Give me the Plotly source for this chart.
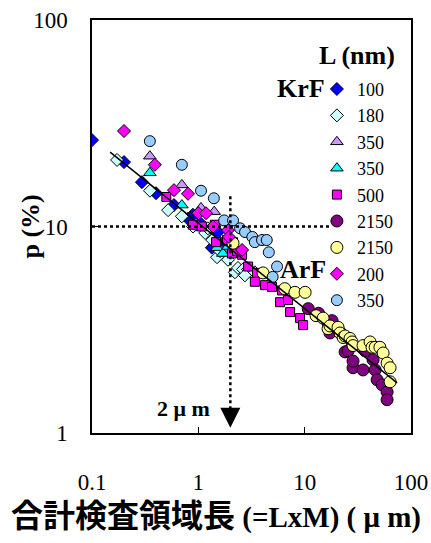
import numpy as np
import plotly.graph_objects as go

# KrF, L = 100 nm
krf100_x = [0.1, 0.2, 0.295, 0.40, 0.59, 0.80, 0.89, 0.83, 0.93, 1.04, 1.44, 1.53, 1.34, 1.67]
krf100_y = [26.2, 20.5, 16.4, 14.5, 12.7, 10.9, 11.4, 11.0, 10.6, 10.4, 8.8, 9.4, 7.9, 8.1]

# KrF, L = 180 nm
krf180_x = [0.172, 0.351, 0.52, 0.70, 0.89, 0.95, 1.16, 1.23, 1.35, 1.50, 1.60, 1.90, 2.21, 2.36,
            2.63, 2.94, 3.22, 3.4, 2.74]
krf180_y = [21.0, 14.9, 12.0, 11.2, 10.0, 10.2, 9.3, 9.8, 8.6, 7.1, 7.6, 6.9, 6.0, 6.3,
            6.2, 6.2, 5.96, 6.0, 5.8]

# KrF, L = 350 nm (lavender)
krf350a_x = [0.35, 0.70, 1.06, 1.41]
krf350a_y = [21.9, 15.9, 12.3, 11.8]

# KrF, L = 350 nm (cyan)
krf350b_x = [0.35, 0.70, 1.50, 1.70, 1.90]
krf350b_y = [18.2, 12.7, 7.9, 7.4, 8.0]

# KrF, L = 500 nm
krf500_x = [0.50, 0.89, 1.08, 1.43, 1.47, 1.86, 2.12, 2.07, 2.31, 2.58, 2.94, 3.57, 3.4, 4.24,
            4.93, 6.13, 5.87, 6.98, 7.3, 9.06, 9.66]
krf500_y = [13.9, 10.2, 10.0, 10.2, 8.4, 8.6, 8.4, 7.4, 7.6, 7.3, 6.4, 5.96, 5.4, 5.2,
            5.1, 4.9, 4.3, 4.4, 3.85, 3.6, 3.33]

# KrF, L = 2150 nm (purple)
krf2150a_x = [10.8, 13.5, 16.6, 17.3, 18.1, 21.5, 24.0, 25.6, 28.5, 28.5, 35.4, 37.0, 44.0, 46.0,
              48.0, 53.5, 59.6, 59.6]
krf2150a_y = [4.0, 3.8, 3.4, 3.05, 3.5, 3.08, 2.47, 2.5, 2.07, 2.23, 2.02, 2.5, 2.26, 2.02,
              1.81, 1.71, 1.58, 1.45]

# KrF, L = 2150 nm (yellow)
krf2150b_x = [2.12, 4.06, 6.5, 8.1, 10.1, 12.8, 14.9, 16.6, 17.3, 20.6, 21.5, 23.0, 24.0, 26.7,
              27.9, 28.5, 35.4, 41.2, 43.0, 46.0, 51.0, 54.7, 59.6, 63.6, 63.6]
krf2150b_y = [8.3, 5.96, 5.0, 4.8, 4.8, 3.7, 3.6, 3.2, 3.3, 3.25, 3.05, 2.9, 2.95, 2.87,
              2.76, 2.65, 2.65, 2.76, 2.6, 2.6, 2.6, 2.44, 2.18, 2.07, 1.77]

# ArF, L = 200 nm
arf200_x = [0.2, 0.39, 0.59, 0.80, 1.0, 1.18, 1.37, 1.90, 1.94, 2.58]
arf200_y = [29.0, 19.9, 15.0, 14.4, 11.6, 11.6, 10.0, 9.6, 8.9, 7.7]

# ArF, L = 350 nm
arf350_x = [0.35, 0.70, 1.06, 1.40, 1.75, 2.12, 2.47, 2.75, 3.22, 3.4, 3.97, 4.4, 4.6, 5.5, 5.0]
arf350_y = [25.9, 19.9, 14.9, 13.7, 10.7, 10.7, 9.8, 9.4, 8.9, 8.4, 8.6, 8.6, 7.5, 6.4, 5.7]

# fitted line end points
fit_x = [0.148, 74]
fit_y = [22.9, 1.75]

# guide lines at 2 um / 10 %
guide_h_x = [0.1, 17]
guide_h_y = [10, 10]
guide_v_x = [2, 2]
guide_v_y = [14, 1.15]

series = [
    ("100", krf100_x, krf100_y, "diamond", "#0000FF", 10),
    ("180", krf180_x, krf180_y, "diamond", "#CCFFFF", 10),
    ("350", krf350a_x, krf350a_y, "triangle-up", "#CC99FF", 11),
    ("350", krf350b_x, krf350b_y, "triangle-up", "#00FFFF", 11),
    ("500", krf500_x, krf500_y, "square", "#FF00FF", 9),
    ("2150", krf2150a_x, krf2150a_y, "circle", "#800080", 12),
    ("2150", krf2150b_x, krf2150b_y, "circle", "#FFFF99", 12),
    ("200", arf200_x, arf200_y, "diamond", "#FF00FF", 10),
    ("350", arf350_x, arf350_y, "circle", "#99CCFF", 11),
]

SERIF = "Liberation Serif"
TITLE_FONT = "Liberation Serif, Noto Sans CJK JP"

W, H = 431, 543
ML, MR, MT, MB = 92, 20, 20, 110
PW = W - ML - MR

fig = go.Figure()

for name, xs, ys, sym, col, size in series:
    fig.add_trace(
        go.Scatter(
            x=xs,
            y=ys,
            mode="markers",
            name=name,
            marker=dict(symbol=sym, color=col, size=size, line=dict(color="black", width=1)),
        )
    )

fig.add_trace(
    go.Scatter(x=fit_x, y=fit_y, mode="lines", line=dict(color="black", width=1.5), showlegend=False)
)
fig.add_trace(
    go.Scatter(x=guide_h_x, y=guide_h_y, mode="lines",
               line=dict(color="black", width=2.5, dash="dot"), showlegend=False)
)
fig.add_trace(
    go.Scatter(x=guide_v_x, y=guide_v_y, mode="lines",
               line=dict(color="black", width=2.5, dash="dot"), showlegend=False)
)

# arrow head at the end of the vertical guide
fig.add_annotation(
    x=np.log10(2), y=np.log10(1.06), xref="x", yref="y",
    ax=0, ay=-14, axref="pixel", ayref="pixel",
    showarrow=True, arrowhead=2, arrowsize=1.6, arrowwidth=2.5, arrowcolor="black", text="",
)
fig.add_annotation(
    x=np.log10(0.72), y=np.log10(1.32), xref="x", yref="y", showarrow=False,
    text="<b>2 μ m</b>", font=dict(family=TITLE_FONT, size=22, color="black"),
)

fig.add_annotation(
    x=0.737, y=0.833, xref="paper", yref="paper", xanchor="right", yanchor="middle",
    showarrow=False, text="<b>KrF</b>", font=dict(family=SERIF, size=26, color="black"),
)
fig.add_annotation(
    x=0.740, y=0.395, xref="paper", yref="paper", xanchor="right", yanchor="middle",
    showarrow=False, text="<b>ArF</b>", font=dict(family=SERIF, size=26, color="black"),
)
fig.add_annotation(
    x=0.955, y=0.915, xref="paper", yref="paper", xanchor="right", yanchor="middle",
    showarrow=False, text="<b>L (nm)</b>", font=dict(family=SERIF, size=26, color="black"),
)

# axis titles
fig.add_annotation(
    x=(215.5 - ML) / PW, y=0, xref="paper", yref="paper", yshift=-83,
    xanchor="center", yanchor="middle", showarrow=False,
    text="<b><span style='font-size:32px'>合計検査領域長</span> (=LxM) ( μ m)</b>",
    font=dict(family=TITLE_FONT, size=29, color="black"),
)
fig.add_annotation(
    x=0, y=0.5, xref="paper", yref="paper", xshift=-62,
    xanchor="center", yanchor="middle", showarrow=False, textangle=-90,
    text="<b>p (%)</b>", font=dict(family=SERIF, size=26, color="black"),
)

fig.update_xaxes(
    type="log", range=[-1, 2], showgrid=False, zeroline=False, automargin=False,
    showline=True, linecolor="black", linewidth=1.5, mirror=True,
    ticks="inside", ticklen=6, tickcolor="black",
    tickvals=[0.1, 1, 10, 100], ticktext=["0.1", "1", "10", "100"],
    tickfont=dict(family=SERIF, size=23, color="black"), ticklabelstandoff=28,
)
fig.update_yaxes(
    type="log", range=[0, 2], showgrid=False, zeroline=False, automargin=False,
    showline=True, linecolor="black", linewidth=1.5, mirror=True,
    ticks="inside", ticklen=6, tickcolor="black",
    tickvals=[1, 10, 100], ticktext=["1", "10", "100"],
    tickfont=dict(family=SERIF, size=23, color="black"), ticklabelstandoff=18,
)

fig.update_layout(
    width=W, height=H,
    margin=dict(l=ML, r=MR, t=MT, b=MB),
    paper_bgcolor="white", plot_bgcolor="white",
    legend=dict(
        x=0.705, y=0.877, xanchor="left", yanchor="top",
        bgcolor="rgba(0,0,0,0)", font=dict(family=SERIF, size=18, color="black"),
        itemwidth=30, tracegroupgap=0,
    ),
)

# drop the default 8px page margin so the figure fills the window
fig.write_html(
    "out.html",
    config={"displayModeBar": False},
    post_script="document.body.style.margin='0';document.body.style.overflow='hidden';",
)
